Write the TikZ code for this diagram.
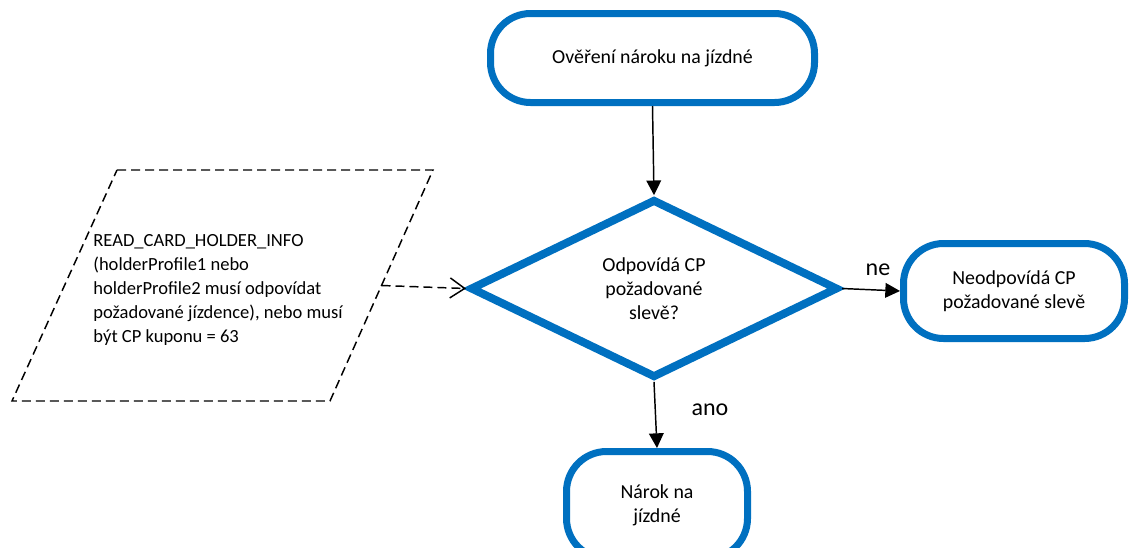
\documentclass[tikz,border=0pt]{standalone}
\usepackage{fontspec}
\setmainfont{Carlito}
\usetikzlibrary{shapes.geometric, arrows.meta, calc}
\definecolor{flowblue}{RGB}{0,112,192}

\tikzset{
  terminal/.style={rectangle, rounded corners=30pt, draw=flowblue, line width=5.25pt, fill=white, align=center, inner sep=0pt, font=\fontsize{14.9}{18}\selectfont},
  decision/.style={diamond, aspect=2, draw=flowblue, line width=6pt, fill=white, align=center, inner sep=0pt, font=\fontsize{14.9}{18}\selectfont},
  iodata/.style={line width=1.1pt, dash pattern=on 6.75pt off 3.75pt},
  iotext/.style={align=left, inner sep=0pt, font=\fontsize{13.9}{18}\selectfont},
  flow/.style={-{Triangle[length=11pt,width=11pt]}, line width=1.1pt},
  dataflow/.style={-{Straight Barb[length=11pt,width=15pt]}, line width=1.1pt, dash pattern=on 6.75pt off 3.75pt},
  answer/.style={font=\fontsize{18}{22}\selectfont, inner sep=0pt}
}

\begin{document}
\begin{tikzpicture}[x=0.75pt, y=-0.75pt]
\useasboundingbox (0,0) rectangle (1131,547);

\node[terminal, minimum width=243pt, minimum height=66.75pt] (start) at (652.5,58) {Ověření nároku na jízdné};
\node[decision, minimum width=276pt, minimum height=134pt] (dec) at (654,288.5) {Odpovídá CP\\požadované\\slevě?};
\node[terminal, minimum width=165.75pt, minimum height=71.25pt] (nope) at (1014,291) {Neodpovídá CP\\požadované slevě};
\node[terminal, minimum width=135.75pt, minimum height=80.25pt] (claim) at (657,505) {Nárok na\\jízdné};

% input data (parallelogram)
\coordinate (data nw) at (117,170);
\coordinate (data ne) at (433,170);
\coordinate (data se) at (330,401);
\coordinate (data sw) at (12,401);
\draw [iodata] (data nw) -- (data ne) -- (data se) -- (data sw) -- cycle;
\node[iotext] (data) at (218,290) {READ\_CARD\_HOLDER\_INFO\\(holderProfile1 nebo\\holderProfile2 musí odpovídat\\požadované jízdence), nebo musí\\být CP kuponu = 63};
\coordinate (data out) at ($(data ne)!0.5!(data se)$);

\draw [flow] (start.south) -- (dec.north);
\draw [flow] (dec.east) -- (nope.west);
\draw [flow] (dec.south) -- (claim.north);
\draw [dataflow] (data out) -- (dec.west);

\node[answer] (ne) at (878,270) {ne};
\node[answer] (ano) at (710,410) {ano};
\end{tikzpicture}
\end{document}
